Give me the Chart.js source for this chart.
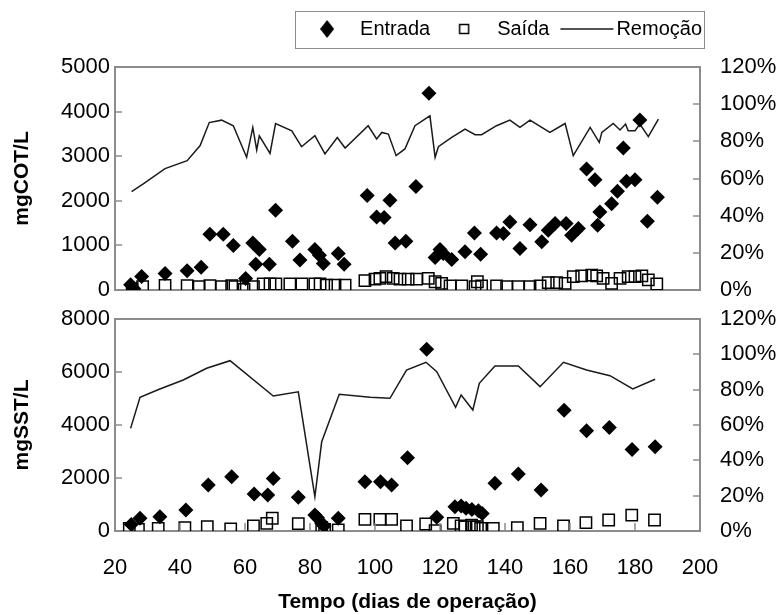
<!DOCTYPE html>
<html>
<head>
<meta charset="utf-8">
<script src="https://cdn.jsdelivr.net/npm/chart.js@4.4.0/dist/chart.umd.min.js"></script>
<style>
  body { margin: 0; background: #fff; }
  #wrap { position: relative; width: 782px; height: 615px; }
  #cotChart { position: absolute; left: 0; top: 0; }
  #sstChart { position: absolute; left: 0; top: 305px; }
</style>
</head>
<body>
<div id="wrap">
  <canvas id="cotChart" width="782" height="305"></canvas>
  <canvas id="sstChart" width="782" height="310"></canvas>
</div>
<script>
// ---- COT (top panel) ----
const cotEntradaDias = [24.8, 25.8, 28.2, 35.4, 42.2, 46.5, 49.2, 53.3, 56.4, 60.2, 62.4, 63.3, 64.4, 67.5, 69.4, 74.6, 76.9, 81.5, 82.9, 84.1, 88.7, 90.5, 97.6, 100.5, 102.8, 104.6, 106.2, 109.5, 112.6, 116.6, 118.5, 120.0, 121.0, 123.6, 127.7, 130.6, 132.5, 137.4, 139.5, 141.5, 144.6, 147.7, 151.3, 153.3, 155.4, 158.8, 160.5, 162.6, 165.1, 167.7, 168.5, 169.2, 172.8, 174.6, 176.4, 177.4, 180.0, 181.5, 183.8, 186.9];
const cotEntrada = [120, 30, 300, 370, 430, 510, 1250, 1250, 1000, 260, 1055, 580, 910, 580, 1790, 1095, 670, 910, 780, 595, 820, 580, 2120, 1635, 1625, 2010, 1055, 1095, 2320, 4410, 730, 910, 820, 685, 855, 1280, 800, 1280, 1265, 1525, 930, 1465, 1080, 1340, 1490, 1490, 1230, 1380, 2715, 2470, 1450, 1750, 1935, 2215, 3185, 2440, 2470, 3810, 1540, 2080];

const cotSaidaDias = [25.3, 28.5, 35.4, 42.2, 45.9, 49.2, 52.8, 55.9, 56.9, 59.7, 62.6, 65.6, 67.7, 69.5, 73.8, 77.5, 81.5, 83.1, 85.1, 87.7, 90.8, 96.9, 100.0, 101.5, 103.4, 105.6, 107.7, 110.2, 112.8, 116.4, 118.5, 120.5, 123.1, 126.7, 130.8, 131.5, 132.8, 137.4, 140.5, 144.1, 147.7, 150.8, 153.3, 155.9, 158.5, 161.0, 163.6, 166.7, 168.2, 170.2, 172.8, 175.4, 177.9, 180.0, 182.1, 184.1, 186.7];
const cotSaida = [30, 75, 105, 95, 75, 95, 75, 95, 75, 15, 75, 135, 135, 135, 135, 135, 135, 135, 110, 110, 110, 210, 245, 260, 300, 260, 245, 245, 245, 260, 185, 150, 90, 90, 75, 185, 90, 90, 75, 75, 75, 90, 165, 165, 150, 300, 315, 335, 315, 260, 150, 260, 300, 300, 315, 225, 135];

const cotRemocaoDias = [25.1, 28.7, 35.4, 42.2, 46.2, 49.0, 52.8, 56.4, 60.5, 62.4, 63.6, 64.4, 67.7, 69.4, 74.4, 77.4, 81.5, 84.6, 88.4, 90.8, 97.9, 100.5, 102.1, 104.1, 106.5, 109.2, 112.3, 116.9, 118.5, 119.5, 123.5, 127.7, 130.8, 132.8, 137.4, 141.5, 144.6, 147.7, 153.8, 158.5, 161.0, 166.2, 169.0, 169.8, 173.3, 175.4, 177.1, 177.9, 180.0, 181.5, 184.1, 187.2];
const cotRemocao = [53.0, 57.1, 65.3, 69.6, 77.7, 90.1, 91.4, 88.4, 71.4, 87.5, 75.4, 83.0, 73.5, 89.6, 85.7, 77.1, 83.0, 73.2, 82.1, 76.4, 88.4, 81.3, 84.8, 83.9, 72.3, 75.9, 88.4, 93.7, 71.4, 77.1, 82.0, 86.6, 83.6, 83.6, 88.4, 91.4, 87.5, 91.4, 84.8, 89.6, 72.3, 87.5, 79.4, 84.8, 89.6, 86.1, 89.3, 85.7, 85.7, 89.3, 82.5, 92.0];

// ---- SST (bottom panel) ----
const sstEntradaDias = [25.0, 27.7, 33.8, 41.8, 48.7, 55.9, 62.8, 67.0, 68.7, 76.4, 81.5, 82.3, 83.6, 84.3, 88.7, 96.9, 101.7, 105.1, 110.0, 115.9, 119.0, 124.6, 126.5, 128.0, 129.8, 131.8, 133.0, 136.9, 144.1, 151.1, 158.2, 165.1, 172.1, 179.1, 186.2];
const sstEntrada = [250, 480, 540, 790, 1735, 2050, 1395, 1360, 1985, 1270, 600, 500, 290, 190, 480, 1860, 1860, 1735, 2765, 6860, 515, 915, 940, 855, 815, 760, 665, 1800, 2150, 1545, 4560, 3780, 3910, 3080, 3180];

const sstSaidaDias = [24.4, 27.2, 33.3, 41.5, 48.4, 55.6, 62.6, 66.7, 68.4, 76.4, 83.6, 84.5, 88.7, 96.9, 101.5, 105.1, 109.7, 115.6, 118.5, 124.1, 126.5, 127.7, 129.7, 130.5, 131.5, 132.5, 136.4, 143.8, 150.8, 158.0, 164.9, 171.9, 179.0, 186.0];
const sstSaida = [100, 60, 100, 125, 160, 75, 190, 290, 480, 280, 140, 60, 40, 440, 440, 440, 190, 265, 10, 290, 190, 150, 225, 150, 160, 100, 100, 125, 290, 190, 315, 415, 600, 415];

const sstRemocaoDias = [24.8, 27.7, 33.8, 41.0, 48.2, 55.4, 68.7, 76.4, 81.5, 83.6, 89.0, 98.5, 104.6, 109.7, 115.7, 119.0, 124.8, 126.5, 130.1, 132.1, 136.9, 144.1, 150.8, 158.0, 165.1, 172.3, 179.3, 186.2];
const sstRemocao = [58.1, 75.7, 80.4, 85.5, 92.1, 96.4, 76.4, 78.8, 19.4, 50.5, 77.4, 75.7, 75.1, 91.1, 95.5, 90.2, 70.0, 77.0, 68.5, 83.6, 93.4, 93.4, 81.7, 95.5, 91.1, 87.9, 80.4, 85.9];

const seriesNames = ['Entrada', 'Saída', 'Remoção'];

const axisGray = '#8c8c8c';
Chart.defaults.font.family = "'Liberation Sans', Arial, sans-serif";
Chart.defaults.color = '#000';
Chart.defaults.animation = false;

const pts = (xs, ys) => xs.map((x, i) => ({ x, y: ys[i] }));

// short tick marks pointing into the plot
const innerTicks = {
  id: 'innerTicks',
  afterDraw(chart, args, opts) {
    const { ctx, chartArea: a } = chart;
    ctx.save();
    ctx.strokeStyle = axisGray;
    ctx.lineWidth = 1.5;
    (opts.scales || []).forEach(id => {
      const s = chart.scales[id];
      s.ticks.forEach(t => {
        const p = Math.round(s.getPixelForValue(t.value));
        ctx.beginPath();
        if (s.position === 'left') { ctx.moveTo(a.left, p); ctx.lineTo(a.left + 7, p); }
        else if (s.position === 'right') { ctx.moveTo(a.right, p); ctx.lineTo(a.right - 7, p); }
        else { ctx.moveTo(p, a.bottom); ctx.lineTo(p, a.bottom - 8); }
        ctx.stroke();
      });
    });
    ctx.restore();
  }
};

// move the legend row left so it ends near the plot's right edge
const legendShift = {
  id: 'legendShift',
  afterLayout(chart, args, opts) {
    const lg = chart.legend;
    if (!lg) return;
    lg.left += opts.dx;
    lg.right += opts.dx;
  }
};

// frame round the legend items
const legendFrame = {
  id: 'legendFrame',
  afterDraw(chart) {
    const lg = chart.legend;
    if (!lg || !lg.options.display) return;
    const pad = lg.options.labels.padding;
    const start = lg.right - lg.lineWidths[0];
    const ctx = chart.ctx;
    ctx.save();
    ctx.strokeStyle = axisGray;
    ctx.lineWidth = 1;
    ctx.strokeRect(Math.round(start - 9) + 0.5, lg.top + 3.5, Math.round(lg.lineWidths[0] - pad + 11), 37);
    ctx.restore();
  }
};

function icon(w, h, draw) {
  const c = document.createElement('canvas');
  c.width = w; c.height = h;
  draw(c.getContext('2d'));
  return c;
}
const legendIcons = [
  icon(14, 18, g => {
    g.fillStyle = '#000';
    g.beginPath(); g.moveTo(7, 0); g.lineTo(14, 9); g.lineTo(7, 18); g.lineTo(0, 9); g.closePath(); g.fill();
  }),
  icon(12, 12, g => {
    g.strokeStyle = '#000'; g.lineWidth = 1.5;
    g.strokeRect(1.5, 1.5, 9, 9);
  }),
  icon(80, 4, g => {
    g.strokeStyle = '#1a1a1a'; g.lineWidth = 1.5;
    g.beginPath(); g.moveTo(17, 2); g.lineTo(70, 2); g.stroke();
  })
];

function datasets(entD, ent, saiD, sai, remD, rem) {
  return [
    {
      label: seriesNames[0], data: pts(entD, ent), xAxisID: 'x', yAxisID: 'y',
      pointStyle: 'rectRot', pointRadius: 7.5, backgroundColor: '#000', borderColor: '#000', borderWidth: 0
    },
    {
      label: seriesNames[1], data: pts(saiD, sai), xAxisID: 'x', yAxisID: 'y',
      pointStyle: 'rect', pointRadius: 8, backgroundColor: 'rgba(0,0,0,0)', borderColor: '#000', borderWidth: 1.5
    },
    {
      label: seriesNames[2], data: pts(remD, rem), xAxisID: 'x', yAxisID: 'y2',
      showLine: true, pointRadius: 0, borderColor: '#1a1a1a', borderWidth: 1.5, tension: 0
    }
  ];
}

const frame = { color: axisGray, width: 2 };
// grid lines hidden; tickLength only reserves the gap before the labels
const gap = len => ({ display: false, drawTicks: true, tickLength: len });

function yLeft(max, step, title) {
  return {
    position: 'left', min: 0, max,
    ticks: { stepSize: step, padding: 0, font: { size: 22 }, callback: v => String(v) },
    grid: gap(5), border: frame,
    title: { display: true, text: title, font: { size: 21, weight: 'bold' }, padding: { top: 10 } },
    afterFit: s => { s.width = 115; }
  };
}
function yRight() {
  return {
    position: 'right', min: 0, max: 120,
    ticks: { stepSize: 20, padding: 0, font: { size: 22 }, callback: v => v + '%' },
    grid: gap(20), border: frame,
    afterFit: s => { s.width = 82; }
  };
}
function xTop(h) {
  return {
    type: 'linear', position: 'top',
    ticks: { display: false }, grid: gap(0), border: frame,
    afterFit: s => { s.height = h; }
  };
}

new Chart(document.getElementById('cotChart'), {
  type: 'scatter',
  data: { datasets: datasets(cotEntradaDias, cotEntrada, cotSaidaDias, cotSaida, cotRemocaoDias, cotRemocao) },
  plugins: [innerTicks, legendShift, legendFrame],
  options: {
    responsive: false,
    events: [],
    layout: { padding: { top: 8 } },
    plugins: {
      tooltip: { enabled: false },
      innerTicks: { scales: ['y', 'y2'] },
      legendShift: { dx: -69 },
      legend: {
        display: true,
        position: 'top',
        align: 'end',
        labels: {
          usePointStyle: true,
          pointStyleWidth: 46,
          padding: 11,
          font: { size: 20 },
          color: '#000',
          generateLabels(chart) {
            const items = Chart.defaults.plugins.legend.labels.generateLabels(chart);
            return items.map((it, i) => Object.assign(it, { pointStyle: legendIcons[i] }));
          }
        }
      }
    },
    scales: {
      x: {
        type: 'linear', position: 'bottom', min: 20, max: 200,
        ticks: { display: false, stepSize: 20 }, grid: gap(0), border: frame,
        afterFit: s => { s.height = 15; }
      },
      xTop: xTop(18),
      y: yLeft(5000, 1000, 'mgCOT/L'),
      y2: yRight()
    }
  }
});

new Chart(document.getElementById('sstChart'), {
  type: 'scatter',
  data: { datasets: datasets(sstEntradaDias, sstEntrada, sstSaidaDias, sstSaida, sstRemocaoDias, sstRemocao) },
  plugins: [innerTicks],
  options: {
    responsive: false,
    events: [],
    layout: { padding: { top: 14 } },
    plugins: {
      tooltip: { enabled: false },
      legend: { display: false },
      innerTicks: { scales: ['y', 'y2', 'x'] }
    },
    scales: {
      x: {
        type: 'linear', position: 'bottom', min: 20, max: 200,
        ticks: { stepSize: 20, padding: 0, font: { size: 22 }, autoSkip: false, maxRotation: 0 },
        grid: gap(24), border: frame,
        title: { display: true, text: 'Tempo (dias de operação)', font: { size: 21, weight: 'bold' }, padding: { top: 0, bottom: 0 } },
        afterFit: s => { s.height = 84; }
      },
      xTop: xTop(0),
      y: yLeft(8000, 2000, 'mgSST/L'),
      y2: yRight()
    }
  }
});
</script>
</body>
</html>
